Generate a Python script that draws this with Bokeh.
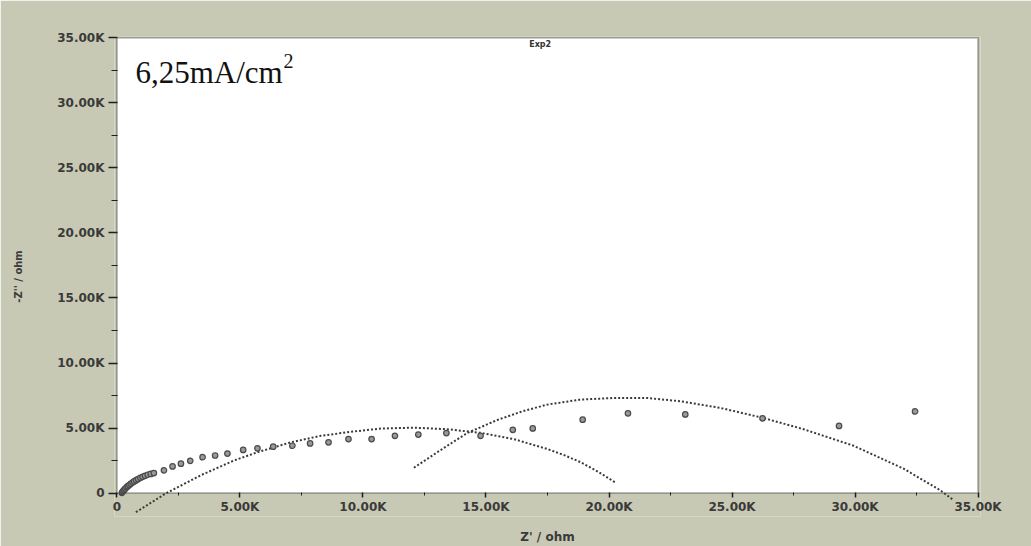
from bokeh.plotting import figure
from bokeh.models import Range1d, FixedTicker, CustomJSTickFormatter, BoxAnnotation, Label
from bokeh.embed import file_html
from bokeh.resources import INLINE

# ---------------- data (ohm) ----------------
# measured impedance points (Z', -Z'')
z_re = [200, 230, 260, 300, 340, 390, 440, 500, 560, 630, 700, 780, 860, 950, 1040,
        1140, 1250, 1370, 1500, 1910, 2260, 2600, 2980, 3480, 3990, 4490, 5130, 5710,
        6350, 7130, 7850, 8600, 9410, 10350, 11300, 12250, 13390, 14780, 16090, 16900,
        18930, 20770, 23100, 26240, 29350, 32440]
z_im = [20, 90, 170, 260, 350, 440, 530, 620, 710, 810, 900, 990, 1080, 1170, 1250,
        1330, 1410, 1470, 1540, 1750, 2050, 2260, 2480, 2760, 2890, 3040, 3320, 3440,
        3570, 3640, 3820, 3900, 4150, 4150, 4400, 4500, 4610, 4400, 4860, 4970,
        5640, 6130, 6050, 5750, 5160, 6280]

# fitted arc 1
fit1_re = [770, 1990, 3410, 4760, 5710, 7060, 8280, 9500, 10720, 12070, 13430, 14780,
           16130, 17490, 18200, 18840, 19550, 20260]
fit1_im = [-1470, -20, 1370, 2510, 3140, 3900, 4400, 4710, 4960, 5030, 4910, 4630,
           4150, 3390, 2900, 2380, 1650, 810]

# fitted arc 2
fit2_re = [12070, 13150, 14240, 15460, 16500, 17490, 18840, 20190, 21550, 22900, 24520,
           26240, 27910, 29940, 31970, 33450, 34000]
fit2_im = [1950, 3300, 4620, 5620, 6300, 6800, 7190, 7310, 7310, 7060, 6550,
           5790, 4910, 3640, 1880, 230, -530]

tick_values = [0, 5000, 10000, 15000, 20000, 25000, 30000, 35000]
tick_labels = ["0", "5.00K", "10.00K", "15.00K", "20.00K", "25.00K", "30.00K", "35.00K"]
minor_tick_values = [2500, 7500, 12500, 17500, 22500, 27500, 32500]

title_text = "Exp2"
annotation_text = "6,25mA/cm"
annotation_sup = "2"
x_label = "Z' / ohm"
y_label = "-Z'' / ohm"

# ---------------- styles ----------------
BG = "#c8c9b4"
INK = "#1e1e1e"
TXT = "#3a3a3a"

p = figure(width=1031, height=546, output_backend="svg", toolbar_location=None,
           x_range=Range1d(-100, 35100), y_range=Range1d(-1800, 35100),
           min_border_left=114, min_border_right=51, min_border_top=36,
           min_border_bottom=24,
           background_fill_color=BG, border_fill_color=BG, outline_line_color=None)
p.grid.visible = False

# white plotting area with its frame (from 0 to the axis maxima)
box = BoxAnnotation(left=tick_values[0], right=tick_values[-1],
                    bottom=tick_values[0], top=tick_values[-1],
                    fill_color="white", fill_alpha=1.0,
                    line_color=INK, line_width=2, level="underlay")
p.add_layout(box)

fmt_code = "const i = tvals.indexOf(tick); return i < 0 ? '' : tlabs[i];"

for ax in (p.xaxis[0], p.yaxis[0]):
    ax.ticker = FixedTicker(ticks=tick_values, minor_ticks=minor_tick_values)
    ax.formatter = CustomJSTickFormatter(args=dict(tvals=tick_values, tlabs=tick_labels),
                                         code=fmt_code)
    ax.axis_line_color = None
    ax.major_tick_line_color = INK
    ax.minor_tick_line_color = INK
    ax.major_tick_line_width = 1.5
    ax.minor_tick_line_width = 1
    ax.major_label_text_font = "DejaVu Sans"
    ax.major_label_text_font_style = "bold"
    ax.major_label_text_font_size = "12px"
    ax.major_label_text_color = TXT
    ax.axis_label_text_font = "DejaVu Sans"
    ax.axis_label_text_font_style = "bold"
    ax.axis_label_text_color = TXT

xa = p.xaxis[0]
xa.axis_label = x_label
xa.axis_label_text_font_size = "12px"
xa.major_tick_in = 24
xa.major_tick_out = -19
xa.minor_tick_in = 24
xa.minor_tick_out = -21
xa.major_label_standoff = 2
xa.axis_label_standoff = 13

ya = p.yaxis[0]
ya.axis_label = y_label
ya.axis_label_text_font_size = "10px"
ya.major_tick_in = 3
ya.major_tick_out = 6
ya.minor_tick_in = 3
ya.minor_tick_out = 3
ya.major_label_standoff = 4
ya.axis_label_standoff = 30

# fitted arcs (dotted)
p.line(fit1_re, fit1_im, line_color="#3a3a3a", line_width=2, line_dash="2 2")
p.line(fit2_re, fit2_im, line_color="#3a3a3a", line_width=2, line_dash="2 2")

# measured points
p.scatter(z_re, z_im, marker="circle", size=5.5, fill_color="#9a9a9a",
          line_color="#4a4a4a", line_width=1.2)

# texts inside the frame
p.add_layout(Label(x=17200, y=34500, text=title_text, text_align="center",
                   text_baseline="alphabetic", text_font="DejaVu Sans",
                   text_font_style="bold", text_font_size="8px", text_color="#333333"))
p.add_layout(Label(x=750, y=32370, text=annotation_text, text_baseline="alphabetic",
                   text_font="Liberation Serif", text_font_size="31px",
                   text_color="#111111"))
p.add_layout(Label(x=6770, y=33200, text=annotation_sup, text_baseline="alphabetic",
                   text_font="Liberation Serif", text_font_size="20px",
                   text_color="#111111"))

open("out.html", "w").write(file_html(p, INLINE))
